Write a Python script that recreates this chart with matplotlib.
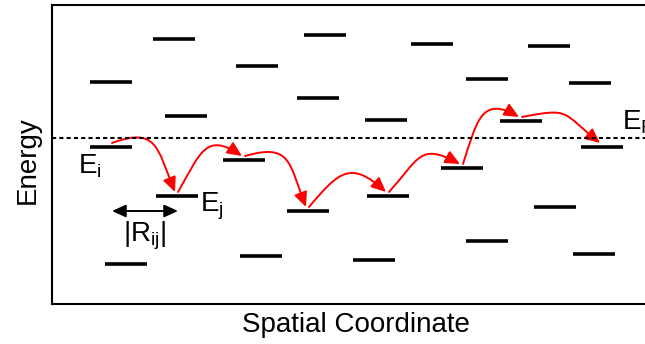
import matplotlib
matplotlib.use("Agg")
import numpy as np
import matplotlib.pyplot as plt
from matplotlib.patches import FancyArrowPatch
from matplotlib.path import Path

plt.rcParams['font.family'] = ['Liberation Sans', 'DejaVu Sans']
plt.rcParams['mathtext.default'] = 'regular'

# site positions (spatial coordinate) and site energies
site_x = [174, 325, 432, 549, 257, 111, 487, 590, 318, 186, 386, 521,
          111, 602, 244, 462, 177, 388, 308, 555, 487, 261, 594, 126, 374]
site_e = [265, 269, 260, 258, 238, 222, 225, 221, 206, 188, 184, 183,
          157, 157, 144, 136, 108, 108, 93, 97, 63, 48, 50, 40, 44]

# hopping path (indices into the site lists), departure / arrival angles (deg)
hop_path = [12, 16, 14, 18, 17, 15, 11, 13]
hop_depart = [20, 60, 16, 50, 48, 72, 11]
hop_arrive = [-68, -34, -69, -42, -28, -30, -39]

fermi_level = 166
level_width = 42


def hop_arrow(p0, p1, a_dep, a_arr, k=0.6):
    """Cubic bezier arrow leaving p0 at angle a_dep and reaching p1 heading a_arr."""
    p0 = np.array(p0, float)
    p1 = np.array(p1, float)
    d = k * np.hypot(*(p1 - p0))
    c1 = p0 + d * np.array([np.cos(np.radians(a_dep)), np.sin(np.radians(a_dep))])
    c2 = p1 - d * np.array([np.cos(np.radians(a_arr)), np.sin(np.radians(a_arr))])
    path = Path([p0, c1, c2, p1], [Path.MOVETO, Path.CURVE4, Path.CURVE4, Path.CURVE4])
    return FancyArrowPatch(path=path,
                           arrowstyle="-|>,head_length=0.55,head_width=0.25",
                           mutation_scale=16, color='red', lw=1.4)


fig = plt.figure(figsize=(6.45, 3.44), dpi=100)
ax = fig.add_axes([52 / 645, 40 / 344, 608 / 645, 299 / 344])
ax.set_xlim(52, 660)
ax.set_ylim(0, 299)

# energy levels
ax.hlines(site_e, [x - level_width / 2 for x in site_x],
          [x + level_width / 2 for x in site_x],
          colors='black', lw=2.6, capstyle='butt')

# fermi level
ax.axhline(fermi_level, color='black', lw=1.5, dashes=(2, 1.5))

# hops
for k in range(len(hop_path) - 1):
    i, j = hop_path[k], hop_path[k + 1]
    ax.add_patch(hop_arrow((site_x[i] + 1, site_e[i] + 4),
                           (site_x[j] - 2, site_e[j] + 4),
                           hop_depart[k], hop_arrive[k]))

# hopping distance
ax.annotate('', xy=(178, 93), xytext=(112, 93),
            arrowprops=dict(arrowstyle='<|-|>,head_length=0.55,head_width=0.25',
                            mutation_scale=15, color='black', lw=1.4,
                            shrinkA=0, shrinkB=0))

ax.text(78, 130, r'E$_\mathregular{i}$', fontsize=20, ha='left', va='baseline')
ax.text(200, 93, r'E$_\mathregular{j}$', fontsize=20, ha='left', va='baseline')
ax.text(145, 62, r'|R$_\mathregular{ij}$|', fontsize=20, ha='center', va='baseline')
ax.text(622, 174, r'E$_\mathregular{F}$', fontsize=20, ha='left', va='baseline')

ax.set_xticks([])
ax.set_yticks([])
for s in ax.spines.values():
    s.set_linewidth(1.5)
ax.set_xlabel('Spatial Coordinate', fontsize=20, labelpad=6)
fig.text(28 / 645, 1 - 160 / 344, 'Energy', fontsize=20, rotation=90,
         ha='center', va='center')

fig.savefig('out.png', dpi=100)
